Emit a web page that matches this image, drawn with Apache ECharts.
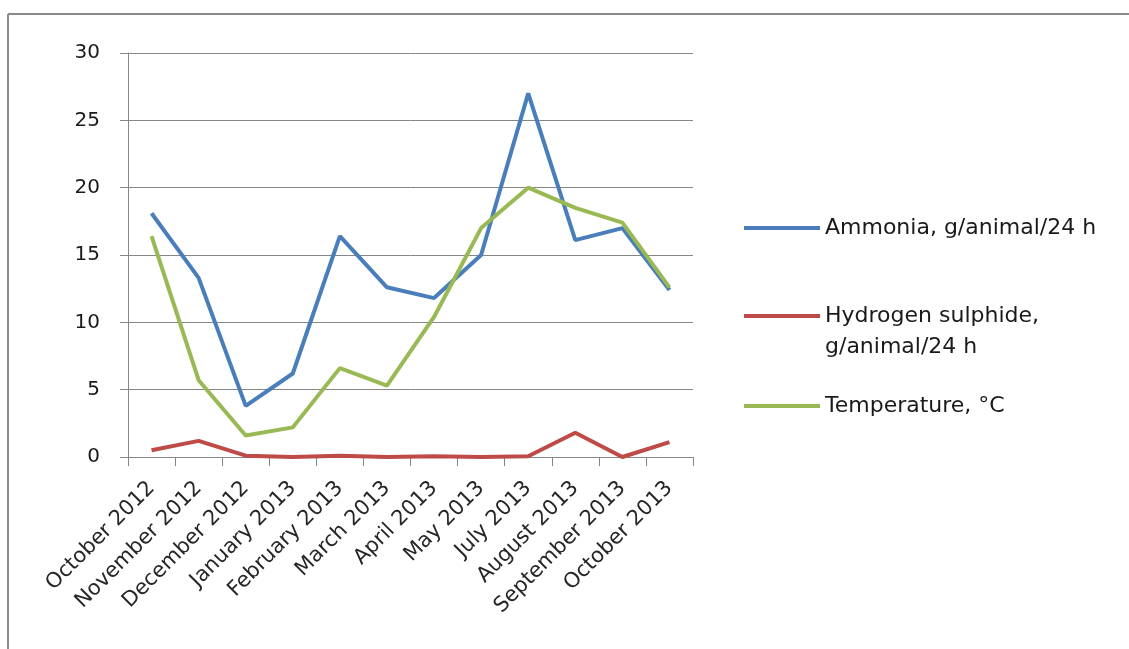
<!DOCTYPE html>
<html>
<head>
<meta charset="utf-8">
<script src="https://cdn.jsdelivr.net/npm/echarts@6/dist/echarts.min.js"></script>
<style>
html,body{margin:0;padding:0;background:#fff;}
#c{width:1129px;height:649px;}
</style>
</head>
<body>
<div id="c"></div>
<script>
const categories = ['October 2012','November 2012','December 2012','January 2013','February 2013','March 2013','April 2013','May 2013','July 2013','August 2013','September 2013','October 2013'];
const ammonia = [18.1, 13.3, 3.8, 6.2, 16.4, 12.6, 11.8, 15.0, 27.0, 16.1, 17.0, 12.4];
const hydrogenSulphide = [0.5, 1.2, 0.1, 0.0, 0.1, 0.0, 0.05, 0.0, 0.05, 1.8, 0.0, 1.1];
const temperature = [16.4, 5.7, 1.6, 2.2, 6.6, 5.3, 10.4, 17.0, 20.0, 18.5, 17.4, 12.6];
const yTicks = [0, 5, 10, 15, 20, 25, 30];

const names = ['Ammonia, g/animal/24 h', 'Hydrogen sulphide,\ng/animal/24 h', 'Temperature, °C'];
const colors = ['#4A7EBB', '#BE4B48', '#98B954'];

const chart = echarts.init(document.getElementById('c'), null, {renderer: 'canvas'});
const legendText = {fontFamily: 'DejaVu Sans', fontSize: 22, color: '#1a1a1a', lineHeight: 31};
const legendBase = {
  orient: 'vertical', left: 744, itemWidth: 76, itemHeight: 4, itemGap: 0, padding: 0,
  icon: 'rect', selectedMode: false, textStyle: legendText
};
chart.setOption({
  animation: false,
  backgroundColor: '#fff',
  graphic: [
    {type: 'line', shape: {x1: 8, y1: 14, x2: 1129, y2: 14}, style: {stroke: '#8a8a8a', lineWidth: 2}},
    {type: 'line', shape: {x1: 8, y1: 14, x2: 8, y2: 649}, style: {stroke: '#8a8a8a', lineWidth: 2}}
  ],
  grid: {left: 128, top: 53, width: 565, height: 404, containLabel: false},
  legend: [
    Object.assign({}, legendBase, {top: 228 - 15.5, data: [names[0]]}),
    Object.assign({}, legendBase, {top: 316 - 46.5, data: [names[1]],
      formatter: function (n) { return ' \n' + n; }}),
    Object.assign({}, legendBase, {top: 406 - 15.5, data: [names[2]]})
  ],
  xAxis: {
    type: 'category', data: categories, boundaryGap: true,
    axisLine: {lineStyle: {color: '#868686', width: 1}},
    axisTick: {show: true, alignWithLabel: false, length: 9, lineStyle: {color: '#868686'}},
    axisLabel: {rotate: 45, interval: 0, margin: 28, fontFamily: 'DejaVu Sans', fontSize: 21, color: '#262626'}
  },
  yAxis: {
    type: 'value', min: yTicks[0], max: yTicks[yTicks.length - 1], interval: 5,
    axisLine: {show: true, lineStyle: {color: '#868686', width: 1}},
    axisTick: {show: true, length: 8, lineStyle: {color: '#868686'}},
    splitLine: {lineStyle: {color: '#868686', width: 1}},
    axisLabel: {margin: 28, fontFamily: 'DejaVu Sans', fontSize: 20, color: '#1a1a1a'}
  },
  series: [
    {name: names[0], type: 'line', data: ammonia, symbol: 'none', lineStyle: {color: colors[0], width: 4}, itemStyle: {color: colors[0]}},
    {name: names[1], type: 'line', data: hydrogenSulphide, symbol: 'none', lineStyle: {color: colors[1], width: 4}, itemStyle: {color: colors[1]}},
    {name: names[2], type: 'line', data: temperature, symbol: 'none', lineStyle: {color: colors[2], width: 4}, itemStyle: {color: colors[2]}}
  ]
});
</script>
</body>
</html>
